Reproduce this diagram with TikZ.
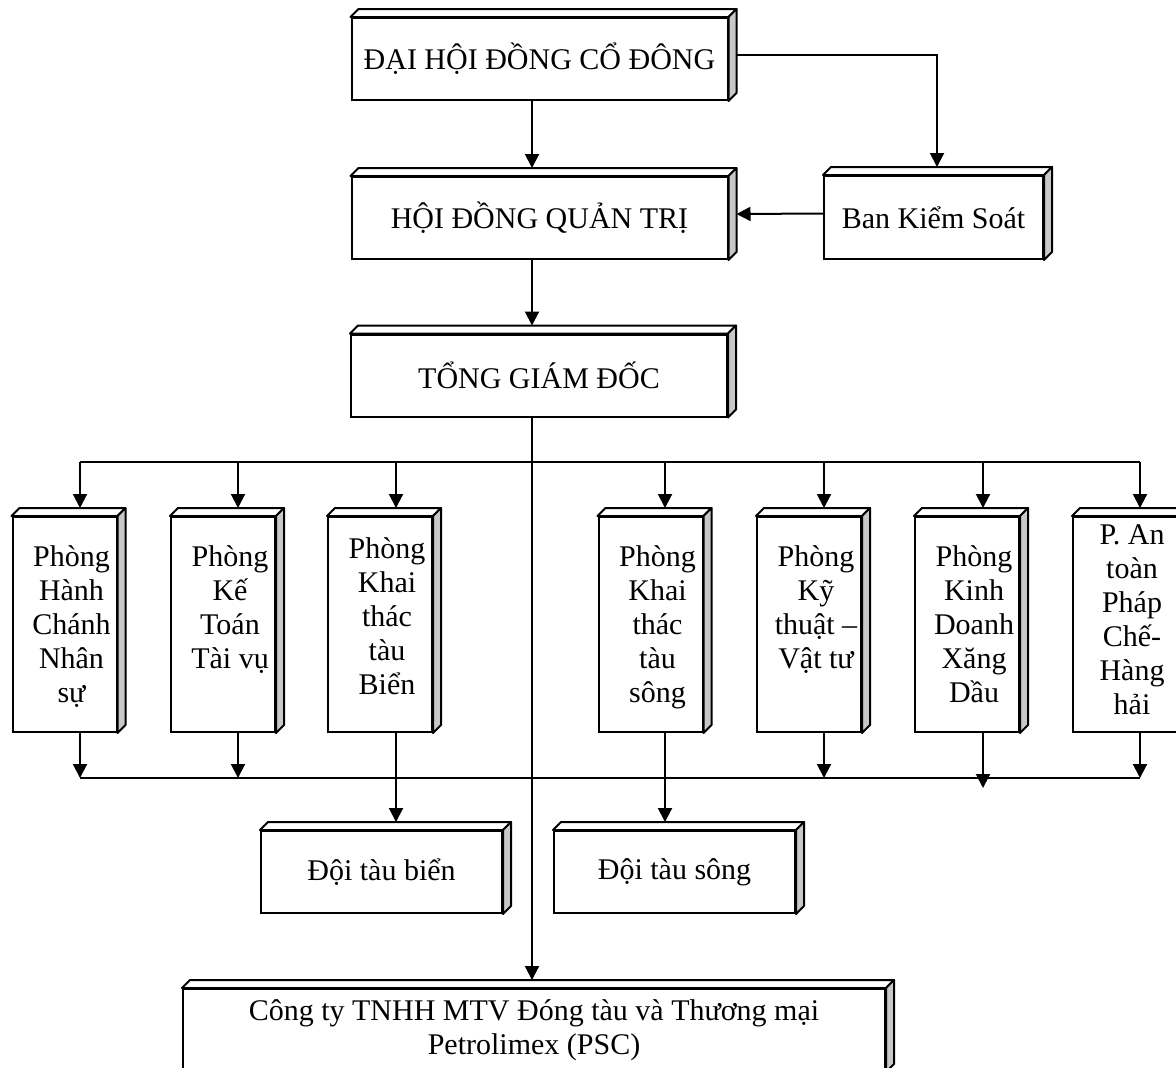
\documentclass[tikz,border=0pt]{standalone}
\usepackage{fontspec}
\setmainfont{Liberation Serif}
\usetikzlibrary{arrows.meta}
\definecolor{sidegray}{RGB}{200,200,200}
\tikzset{
  box/.style={draw, line width=1pt, fill=white, inner sep=0pt, align=center},
  big/.style={box, minimum width=188pt, minimum height=41pt},
  dept/.style={box, minimum width=52pt, minimum height=107.5pt},
  fleet/.style={box, minimum width=120.5pt, minimum height=41pt},
  depttext/.style={anchor=north, align=center, inner sep=0pt},
  arr/.style={-{Triangle[width=7pt,length=7pt]}},
  face/.style={draw, line width=1pt, fill=white, line join=round}
}
\begin{document}
\begin{tikzpicture}[x=0.5pt, y=-0.5pt, line width=1pt, font=\fontsize{15pt}{17pt}\selectfont]
\path[use as bounding box, clip] (0,0) rectangle (1176,1067);

\node[big] (dhdcd) at (539.5,59) {ĐẠI HỘI ĐỒNG CỔ ĐÔNG};
\node[big] (hdqt) at (539.5,218) {HỘI ĐỒNG QUẢN TRỊ};
\node[box, minimum width=109.5pt, minimum height=41.5pt] (bks) at (933.5,217.5) {Ban Kiểm Soát};
\node[big] (tgd) at (539,375.5) {TỔNG GIÁM ĐỐC};

\node[dept] (p1) at (64.5,624.5) {};
\node[dept] (p2) at (223,624.5) {};
\node[dept] (p3) at (380,624.5) {};
\node[dept] (p4) at (650.5,624.5) {};
\node[dept] (p5) at (809,624.5) {};
\node[dept] (p6) at (967,624.5) {};
\node[dept] (p7) at (1125,624.5) {};

\node[fleet] (dtb) at (381.5,872) {Đội tàu biển};
\node[fleet] (dts) at (674.5,872) {Đội tàu sông};
\node[box, minimum width=351pt, minimum height=41pt] (psc) at (534,1030) {Công ty TNHH MTV Đóng tàu và Thương mại\\Petrolimex (PSC)};

% bevels
\foreach \b in {dhdcd,hdqt,bks,tgd,p1,p2,p3,p4,p5,p6,p7,dtb,dts,psc} {
  \draw[face] (\b.north west) -- ++(4pt,4pt) -- ([shift={(4pt,4pt)}]\b.north east) -- (\b.north east) -- cycle;
  \draw[face, fill=sidegray] (\b.north east) -- ++(4pt,4pt) -- ([shift={(4pt,4pt)}]\b.south east) -- (\b.south east) -- cycle;
}

\node[depttext] (p1t) at ([xshift=3.5pt,yshift=-14.5pt]p1.north) {Phòng\\Hành\\Chánh\\Nhân\\sự};
\node[depttext] (p2t) at ([xshift=3.5pt,yshift=-14.5pt]p2.north) {Phòng\\Kế\\Toán\\Tài vụ};
\node[depttext] (p3t) at ([xshift=3.5pt,yshift=-10.5pt]p3.north) {Phòng\\Khai\\thác\\tàu\\Biển};
\node[depttext] (p4t) at ([xshift=3.5pt,yshift=-14.5pt]p4.north) {Phòng\\Khai\\thác\\tàu\\sông};
\node[depttext] (p5t) at ([xshift=3.5pt,yshift=-14.5pt]p5.north) {Phòng\\Kỹ\\thuật –\\Vật tư};
\node[depttext] (p6t) at ([xshift=3.5pt,yshift=-14.5pt]p6.north) {Phòng\\Kinh\\Doanh\\Xăng\\Dầu};
\node[depttext] (p7t) at ([xshift=3.5pt,yshift=-4pt]p7.north) {P. An\\toàn\\Pháp\\Chế-\\Hàng\\hải};

\coordinate (spine) at (532,0);
\coordinate (bkx) at (937,0);
\foreach \i/\x in {1/80,2/238,3/396,4/665,5/824,6/983,7/1140} {
  \coordinate (t\i) at (\x,462);
  \coordinate (b\i) at (\x,778);
}

\draw[arr] (dhdcd.south -| spine) -- ([yshift=4pt]hdqt.north -| spine);
\draw[arr] ([shift={(4pt,2pt)}]dhdcd.east) -| ([yshift=4pt]bks.north -| bkx);
\draw[arr] ([yshift=2pt]bks.west) -- ([shift={(4pt,2pt)}]hdqt.east);
\draw[arr] (hdqt.south -| spine) -- ([yshift=4pt]tgd.north -| spine);
\draw[arr] (tgd.south -| spine) -- ([yshift=4pt]psc.north -| spine);

\draw (t1) -- (t7);
\draw (b1) -- (b7);
\foreach \i in {1,...,7} \draw[arr] (t\i) -- ([yshift=4pt]p\i.north -| t\i);
\foreach \i in {1,2,5,7} \draw[arr] (p\i.south -| b\i) -- (b\i);
\draw[arr] (p6.south -| b6) -- ([yshift=-5pt]b6);
\draw[arr] (p3.south -| b3) -- ([yshift=4pt]dtb.north -| b3);
\draw[arr] (p4.south -| b4) -- ([yshift=4pt]dts.north -| b4);
\end{tikzpicture}
\end{document}
